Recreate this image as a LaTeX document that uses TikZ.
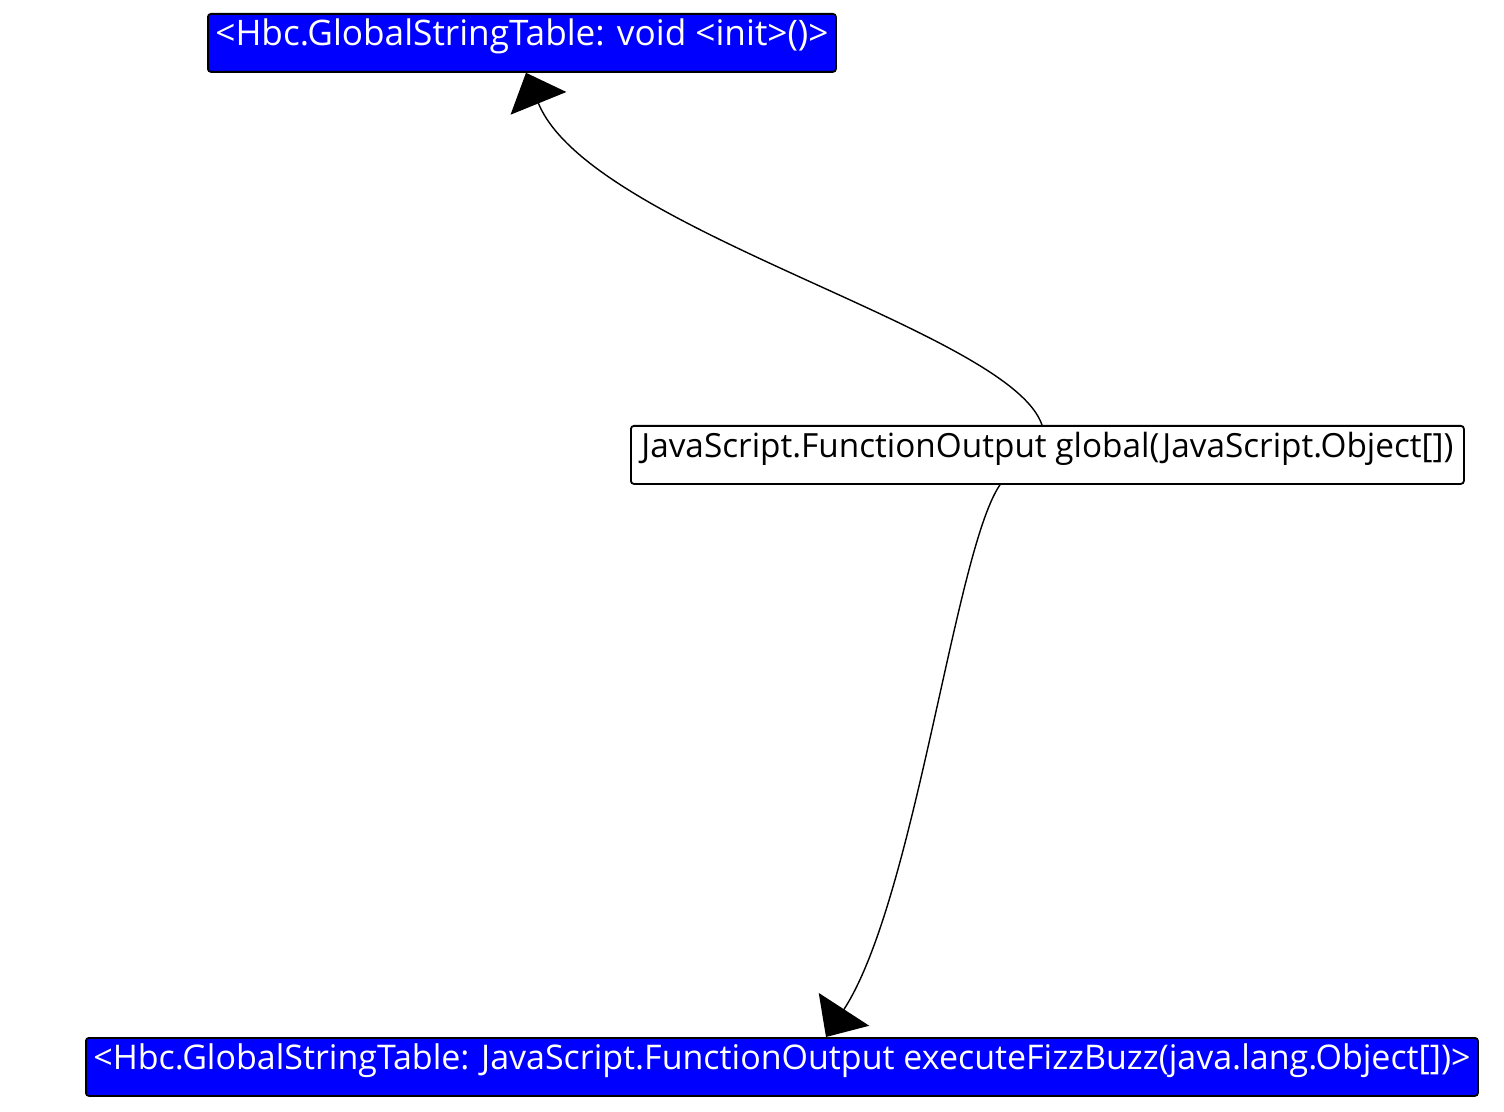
\documentclass[tikz,border=0pt]{standalone}
\usepackage{fontspec}
\setmainfont{Open Sans}
\usetikzlibrary{arrows.meta,calc}
\definecolor{nodeblue}{RGB}{0,0,255}
\begin{document}
\begin{tikzpicture}[x=0.5pt,y=-0.5pt,
  box/.style={draw=black, line width=0.9pt, rounded corners=1.5pt, anchor=north west,
    inner xsep=0pt, inner ysep=0pt, minimum height=29pt, text height=16pt, text depth=13pt,
    font=\fontsize{16pt}{18pt}\selectfont},
  bluebox/.style={box, fill=nodeblue, text=white},
  whitebox/.style={box, fill=white, text=black},
  conn/.style={draw=black, line width=0.7pt, -{Triangle[length=16.5pt,width=30pt]}}]
\useasboundingbox (0,0) rectangle (1504,1112);
\node[bluebox, minimum width=314pt] (init) at (207,13)
  {\resizebox{306.5pt}{!}{<Hbc.GlobalStringTable: void <init>()>}};
\node[whitebox, minimum width=416.5pt] (glob) at (630,425)
  {\resizebox{406pt}{!}{JavaScript.FunctionOutput global(JavaScript.Object[])}};
\node[bluebox, minimum width=696pt] (fizz) at (85,1037)
  {\resizebox{688.5pt}{!}{<Hbc.GlobalStringTable: JavaScript.FunctionOutput executeFizzBuzz(java.lang.Object[])>}};
\draw[conn] ($(glob.north west)+(412,0)$) .. controls (1010,330) and (590,230) .. ($(init.south west)+(319,0)$);
\draw[conn] ($(glob.south west)+(370,0)$) .. controls (955,550) and (915,900) .. ($(fizz.north west)+(741,0)$);
\end{tikzpicture}
\end{document}
